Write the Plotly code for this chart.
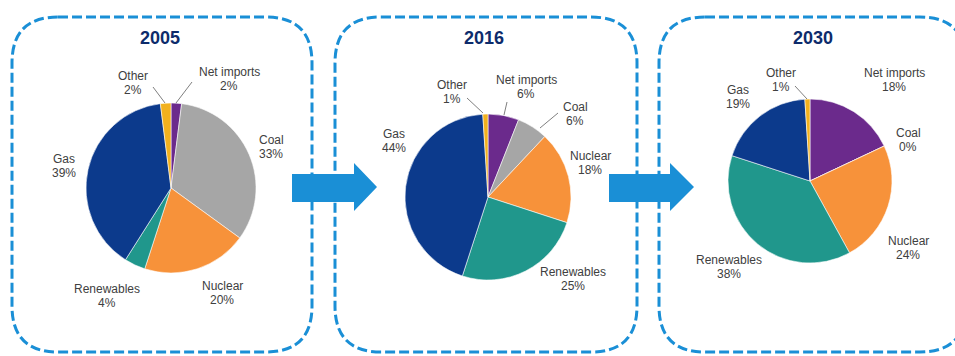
import plotly.graph_objects as go

# Electricity supply mix, share of total (%)
years = ["2005", "2016", "2030"]
sources = ["Net imports", "Coal", "Nuclear", "Renewables", "Gas", "Other"]
mix_2005 = [2, 33, 20, 4, 39, 2]
mix_2016 = [6, 6, 18, 25, 44, 1]
mix_2030 = [18, 0, 24, 38, 19, 1]
mixes = [mix_2005, mix_2016, mix_2030]

colors = {
    "Net imports": "#6B2A8C",
    "Coal": "#A6A6A6",
    "Nuclear": "#F7923A",
    "Renewables": "#20978C",
    "Gas": "#0C3A8C",
    "Other": "#F2B11E",
}

W, H = 955, 356
BLUE = "#1A8FD6"
TEXT = "#404040"
FONT = "Liberation Sans, Arial"

# panel geometry in pixels: pie centre, radius, title position, box edges
panels = [
    dict(cx=171, cy=188, r=85, tx=160, box=(12, 312)),
    dict(cx=488, cy=197, r=83, tx=484, box=(335, 637)),
    dict(cx=810, cy=181, r=82, tx=813, box=(659, 966)),
]
BOX_TOP, BOX_BOT, RAD = 17, 352, 46
LINE_GAP = 14

# label centres (pixels) per panel, keyed by source
label_pos = [
    {"Other": (133, 83), "Net imports": (229, 79), "Coal": (271, 147),
     "Gas": (64, 166), "Renewables": (107, 296), "Nuclear": (222, 293)},
    {"Other": (452, 92), "Net imports": (526, 87), "Coal": (575, 114),
     "Nuclear": (590, 163), "Gas": (394, 141), "Renewables": (573, 279)},
    {"Other": (781, 80), "Net imports": (894, 80), "Coal": (908, 140),
     "Gas": (738, 97), "Renewables": (729, 267), "Nuclear": (908, 248)},
]

# leader lines from small-slice labels to their slices
leaders = [
    [(153, 87, 165, 103), (192, 82, 176, 103)],
    [(467, 98, 483, 113), (507, 102, 504, 115), (558, 113, 540, 128)],
    [(795, 86, 807, 99)],
]

fig = go.Figure()

for p, vals in zip(panels, mixes):
    x0 = (p["cx"] - p["r"]) / W
    x1 = (p["cx"] + p["r"]) / W
    y0 = 1 - (p["cy"] + p["r"]) / H
    y1 = 1 - (p["cy"] - p["r"]) / H
    fig.add_trace(go.Pie(
        labels=sources,
        values=vals,
        sort=False,
        direction="clockwise",
        rotation=0,
        marker=dict(colors=[colors[s] for s in sources],
                    line=dict(color="rgba(255,255,255,0.8)", width=0.7)),
        textinfo="none",
        hoverinfo="label+percent",
        showlegend=False,
        domain=dict(x=[x0, x1], y=[y0, y1]),
    ))

shapes = []
annotations = []


def rounded_box(x0, x1, y0, y1, r):
    return (f"M {x0 + r},{y0} L {x1 - r},{y0} Q {x1},{y0} {x1},{y0 + r} "
            f"L {x1},{y1 - r} Q {x1},{y1} {x1 - r},{y1} "
            f"L {x0 + r},{y1} Q {x0},{y1} {x0},{y1 - r} "
            f"L {x0},{y0 + r} Q {x0},{y0} {x0 + r},{y0} Z")


def text_note(x, y, text, size=12, color=TEXT):
    return dict(x=x, y=y, xref="x", yref="y", text=text, showarrow=False,
                xanchor="center", yanchor="middle",
                font=dict(size=size, color=color, family=FONT))


for p, year, vals, pos, lines in zip(panels, years, mixes, label_pos, leaders):
    bx0, bx1 = p["box"]
    shapes.append(dict(
        type="path", xref="x", yref="y",
        path=rounded_box(bx0, bx1, BOX_TOP, BOX_BOT, RAD),
        line=dict(color=BLUE, width=3, dash="10px,4px"),
        fillcolor="rgba(0,0,0,0)", layer="below",
    ))
    annotations.append(text_note(p["tx"], 38, f"<b>{year}</b>",
                                 size=18, color="#0D2B6B"))
    for s, v in zip(sources, vals):
        lx, ly = pos[s]
        annotations.append(text_note(lx, ly - LINE_GAP / 2, s))
        annotations.append(text_note(lx, ly + LINE_GAP / 2, f"{v}%"))
    for (ax, ay, bx, by) in lines:
        shapes.append(dict(type="line", xref="x", yref="y",
                           x0=ax, y0=ay, x1=bx, y1=by,
                           line=dict(color="#7F7F7F", width=1), layer="above"))

# block arrows between panels
for (sx, hx, tx) in [(292, 354, 377), (609, 670, 694)]:
    top, bot, htop, hbot, mid = 174, 202, 163, 211, 187
    shapes.append(dict(
        type="path", xref="x", yref="y",
        path=(f"M {sx},{top} L {hx},{top} L {hx},{htop} L {tx},{mid} "
              f"L {hx},{hbot} L {hx},{bot} L {sx},{bot} Z"),
        fillcolor=BLUE, line=dict(width=0), layer="above",
    ))

fig.update_layout(
    width=W, height=H,
    margin=dict(l=0, r=0, t=0, b=0),
    paper_bgcolor="white", plot_bgcolor="white",
    xaxis=dict(range=[0, W], visible=False, fixedrange=True),
    yaxis=dict(range=[H, 0], visible=False, fixedrange=True),
    shapes=shapes,
    annotations=annotations,
    showlegend=False,
)

fig.write_html("out.html")
